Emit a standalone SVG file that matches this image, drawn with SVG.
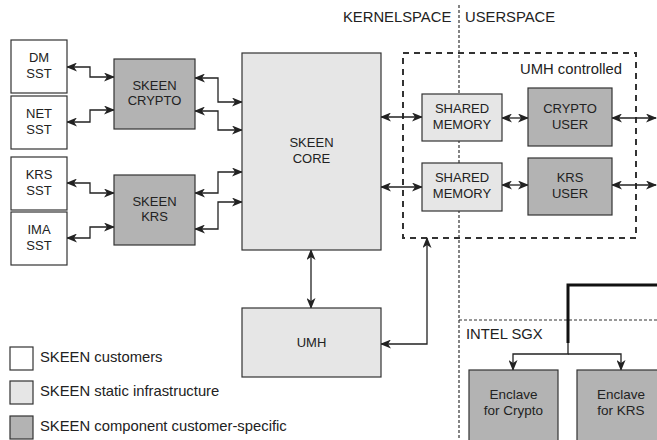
<svg xmlns="http://www.w3.org/2000/svg" width="657" height="440" viewBox="0 0 657 440">
<style>
.n{stroke:#333;stroke-width:1.2}
.w{fill:#fff}
.l{fill:#e6e6e6}
.d{fill:#b3b3b3}
text{font-family:"Liberation Sans",Arial,sans-serif;fill:#222}
.t{font-size:13px;text-anchor:middle}
.e{font-size:13.5px;text-anchor:middle}
.h{font-size:14.8px}
.c{fill:none;stroke:#222;stroke-width:1.3}
.ab{marker-start:url(#a);marker-end:url(#a)}
.ae{marker-end:url(#a)}
.dot{fill:none;stroke:#333;stroke-width:1.2;stroke-dasharray:3 2}
</style>
<defs>
<marker id="a" markerUnits="userSpaceOnUse" markerWidth="11" markerHeight="9" viewBox="0 0 11 9" refX="10" refY="4.5" orient="auto-start-reverse">
<path d="M0,0 L11,4.5 L0,9 L3,4.5 Z" fill="#222"/>
</marker>
</defs>

<g id="boundaries">
<line class="dot" x1="459" y1="5" x2="459" y2="440"/>
<line class="dot" x1="459" y1="320" x2="657" y2="320"/>
<text class="h" x="343" y="22">KERNELSPACE</text>
<text class="h" x="465" y="22">USERSPACE</text>
<text class="h" x="466" y="339">INTEL SGX</text>
</g>

<g id="umh-controlled">
<rect x="403" y="53" width="233" height="185" fill="none" stroke="#333" stroke-width="2" stroke-dasharray="6 5"/>
<text class="h" x="520" y="74">UMH controlled</text>
</g>

<g id="connectors">
<path class="c ab" d="M67,67 H90 V77 H114"/>
<path class="c ab" d="M67,122 H90 V110 H114"/>
<path class="c ab" d="M195,78 H218 V102 H242"/>
<path class="c ab" d="M195,111 H218 V130 H242"/>
<path class="c ab" d="M195,193 H218 V172 H242"/>
<path class="c ab" d="M195,229 H218 V202 H242"/>
<path class="c ab" d="M67,183 H90 V193 H114"/>
<path class="c ab" d="M67,238 H90 V227 H114"/>
<path class="c ab" d="M381,117 H422"/>
<path class="c ab" d="M381,187 H422"/>
<path class="c ab" d="M502,118 H528"/>
<path class="c ab" d="M502,185 H528"/>
<path class="c ab" d="M612,118 H656"/>
<path class="c ab" d="M612,185 H656"/>
<path class="c ab" d="M311,250 V308"/>
<path class="c ab" d="M381,344 H427 V238"/>
<path d="M568,343 V285 H657" fill="none" stroke="#111" stroke-width="3"/>
<path class="c ae" d="M568,343 V354 H513 V370"/>
<path class="c ae" d="M568,354 H621 V370"/>
</g>

<g id="dm-sst"><rect class="n w" x="11" y="40" width="56" height="53"/><text class="t" x="39" y="61.5">DM</text><text class="t" x="39" y="77.5">SST</text></g>
<g id="net-sst"><rect class="n w" x="11" y="96" width="56" height="53"/><text class="t" x="39" y="117.5">NET</text><text class="t" x="39" y="133.5">SST</text></g>
<g id="krs-sst"><rect class="n w" x="11" y="157" width="56" height="53"/><text class="t" x="39" y="178.5">KRS</text><text class="t" x="39" y="194.5">SST</text></g>
<g id="ima-sst"><rect class="n w" x="11" y="212" width="56" height="53"/><text class="t" x="39" y="233.5">IMA</text><text class="t" x="39" y="249.5">SST</text></g>

<g id="skeen-crypto"><rect class="n d" x="114" y="59" width="81" height="70"/><text class="t" x="154.5" y="89.5">SKEEN</text><text class="t" x="154.5" y="105">CRYPTO</text></g>
<g id="skeen-krs"><rect class="n d" x="114" y="175" width="81" height="70"/><text class="t" x="154.5" y="205.5">SKEEN</text><text class="t" x="154.5" y="221">KRS</text></g>

<g id="skeen-core"><rect class="n l" x="242" y="53" width="139" height="197"/><text class="t" x="311.5" y="147">SKEEN</text><text class="t" x="311.5" y="163">CORE</text></g>

<g id="shared-memory-1"><rect class="n l" x="422" y="94" width="80" height="47"/><text class="t" x="462" y="112.5">SHARED</text><text class="t" x="462" y="128.5">MEMORY</text></g>
<g id="shared-memory-2"><rect class="n l" x="422" y="163" width="80" height="48"/><text class="t" x="462" y="182">SHARED</text><text class="t" x="462" y="198">MEMORY</text></g>

<g id="crypto-user"><rect class="n d" x="528" y="88" width="84" height="58"/><text class="t" x="570" y="113">CRYPTO</text><text class="t" x="570" y="129">USER</text></g>
<g id="krs-user"><rect class="n d" x="528" y="158" width="84" height="57"/><text class="t" x="570" y="182">KRS</text><text class="t" x="570" y="198">USER</text></g>

<g id="umh"><rect class="n l" x="242" y="308" width="139" height="69"/><text class="t" x="311.5" y="347">UMH</text></g>

<g id="enclave-crypto"><rect class="n d" x="469" y="370" width="89" height="80"/><text class="e" x="513.5" y="399">Enclave</text><text class="e" x="513.5" y="415">for Crypto</text></g>
<g id="enclave-krs"><rect class="n d" x="577" y="370" width="89" height="80"/><text class="e" x="621" y="399">Enclave</text><text class="e" x="621" y="415">for KRS</text></g>

<g id="legend">
<rect class="n w" x="10" y="347" width="23" height="23"/>
<text class="h" x="40" y="362">SKEEN customers</text>
<rect class="n l" x="10" y="381" width="23" height="23"/>
<text class="h" x="40" y="396">SKEEN static infrastructure</text>
<rect class="n d" x="10" y="416" width="23" height="23"/>
<text class="h" x="40" y="431">SKEEN component customer-specific</text>
</g>
</svg>
